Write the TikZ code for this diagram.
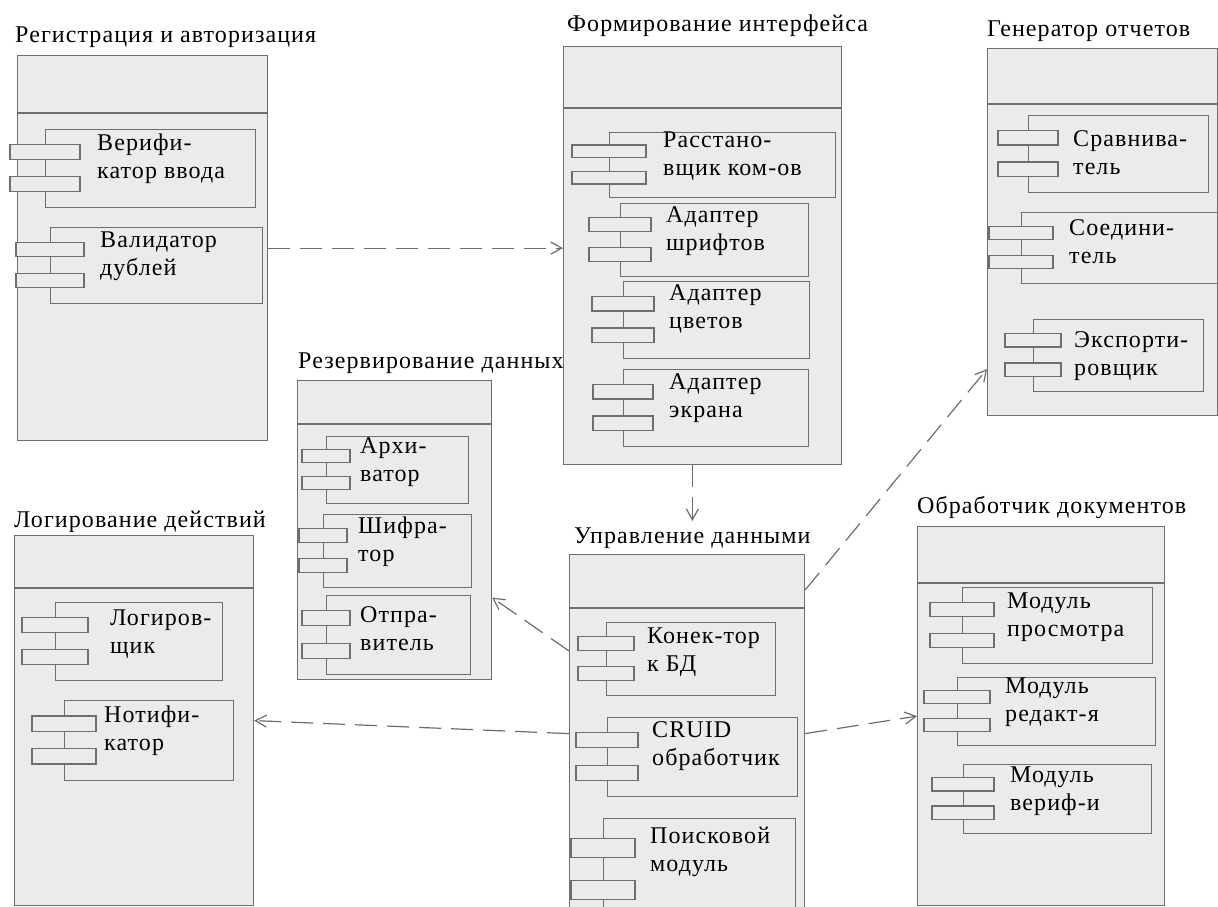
\documentclass[tikz,border=0pt]{standalone}
\usepackage{fontspec}
\setmainfont[LetterSpace=4.5]{Liberation Serif}
\usetikzlibrary{arrows.meta,calc}
\definecolor{PkgFill}{HTML}{EBEBEB}
\definecolor{PkgLine}{HTML}{6E6E6E}

% package: name, left, top, right, bottom, header line
\newcommand{\umlpkg}[6]{%
  \node[pkgbox, anchor=north west, minimum width={#4-#2}, minimum height={#5-#3}] (#1) at (#2,#3) {};
  \draw[pkgbox] (#2,#6) -- (#4,#6);
}
% component: name, left, top, right, bottom, port half width, text x, first baseline, text
\newcommand{\umlcomp}[9]{%
  \node[cbody, anchor=north west, minimum width={#4-#2}, minimum height={#5-#3}] (#1) at (#2,#3) {};
  \draw[cport] ({#2-#6},{#3+0.2*(#5-#3)}) rectangle ({#2+#6},{#3+0.39*(#5-#3)});
  \draw[cport] ({#2-#6},{#3+0.61*(#5-#3)}) rectangle ({#2+#6},{#3+0.8*(#5-#3)});
  \node[ctext] (#1-txt) at (#7,{#8+28}) {#9};
}

\begin{document}
\begin{tikzpicture}[
          x=1pt, y=-1pt,
          pkgbox/.style={rectangle, draw=PkgLine, fill=PkgFill, line width=1.2pt, inner sep=0pt},
          cbody/.style={rectangle, draw=PkgLine, fill=PkgFill, line width=1.2pt, inner sep=0pt},
          cport/.style={draw=PkgLine, fill=PkgFill, line width=1.2pt},
          ctext/.style={anchor=base west, align=left, inner sep=0pt, font=\fontsize{24}{28}\selectfont},
          ptitle/.style={anchor=base west, inner sep=0pt, font=\fontsize{24}{28}\selectfont},
          dep/.style={draw=PkgLine, line width=1.2pt, dash pattern=on 22pt off 10pt, -{Straight Barb[length=11pt,width=12pt]}}
        ]
          \useasboundingbox (0,0) rectangle (1218,907);
          \fill[white] (0,0) rectangle (1218,907);

          % Registration
          \node[ptitle] (regt) at (15,43) {Регистрация и авторизация};
          \umlpkg{reg}{17}{55}{267}{440}{113}
          \umlcomp{ver}{45}{129}{255}{207}{35}{97}{150}{Верифи-\\катор ввода}
          \umlcomp{val}{50}{227}{262}{303}{34}{100}{247}{Валидатор\\дублей}

          % Interface
          \node[ptitle] (guit) at (567,32) {Формирование интерфейса};
          \umlpkg{gui}{563}{46}{841}{464}{108}
          \umlcomp{arr}{609}{132}{835}{197}{37}{663}{147}{Расстано-\\вщик ком-ов}
          \umlcomp{fnt}{620}{203}{808}{276}{31}{666}{222}{Адаптер\\шрифтов}
          \umlcomp{clr}{623}{281}{809}{358}{31}{669}{300}{Адаптер\\цветов}
          \umlcomp{scr}{623}{369}{808}{446}{30}{669}{389}{Адаптер\\экрана}

          % Reports
          \node[ptitle] (rept) at (987,37) {Генератор отчетов};
          \umlpkg{rep}{987}{48}{1217}{415}{104}
          \umlcomp{cmpr}{1028}{115}{1208}{192}{30}{1073}{146}{Сравнива-\\тель}
          \umlcomp{join}{1021}{212}{1217}{283}{32}{1069}{235}{Соедини-\\тель}
          \umlcomp{expo}{1033}{319}{1203}{391}{28}{1074}{347}{Экспорти-\\ровщик}

          % Backup
          \node[ptitle] (bakt) at (298,368) {Резервирование данных};
          \umlpkg{bak}{297}{380}{491}{679}{424}
          \umlcomp{arc}{326}{436}{468}{503}{24}{360}{453}{Архи-\\ватор}
          \umlcomp{enc}{323}{514}{471}{587}{24}{358}{533}{Шифра-\\тор}
          \umlcomp{snd}{326}{595}{470}{674}{24}{360}{622}{Отпра-\\витель}

          % Logging
          \node[ptitle] (logt) at (14,527) {Логирование действий};
          \umlpkg{log}{14}{535}{253}{905}{588}
          \umlcomp{lgr}{55}{602}{222}{680}{33}{110}{625}{Логиров-\\щик}
          \umlcomp{ntf}{64}{700}{233}{780}{32}{104}{722}{Нотифи-\\катор}

          % Data
          \node[ptitle] (datt) at (574,543) {Управление данными};
          \umlpkg{data}{569}{554}{804}{912}{608}
          \umlcomp{dbc}{606}{622}{775}{695}{28}{647}{643}{Конек-тор\\к БД}
          \umlcomp{crud}{607}{717}{797}{796}{31}{652}{737}{CRUID\\обработчик}
          \umlcomp{srch}{603}{818}{795}{920}{32}{650}{843}{Поисковой\\модуль}

          % Documents
          \node[ptitle] (doct) at (917,513) {Обработчик документов};
          \umlpkg{doc}{917}{526}{1164}{905}{583}
          \umlcomp{view}{962}{587}{1152}{663}{32}{1007}{608}{Модуль\\просмотра}
          \umlcomp{edit}{957}{677}{1155}{745}{33}{1005}{693}{Модуль\\редакт-я}
          \umlcomp{vrf}{963}{764}{1151}{833}{31}{1010}{782}{Модуль\\вериф-и}

          % Dependencies
          \draw[dep] (reg.east) -- (reg.east -| gui.west);
          \draw[dep] (gui.south -| datt.north) -- ([yshift=6pt]datt.north);
          \draw[dep] ($(data.north west)!0.27!(data.south west)$) -- ($(bak.north east)!0.725!(bak.south east)$);
          \draw[dep] (data.west) -- (log.east);
          \draw[dep] (data.east) -- (doc.west);
          \draw[dep] ($(data.north east)!0.1!(data.south east)$) -- ($(rep.north west)!0.872!(rep.south west)$);
        \end{tikzpicture}
\end{document}
